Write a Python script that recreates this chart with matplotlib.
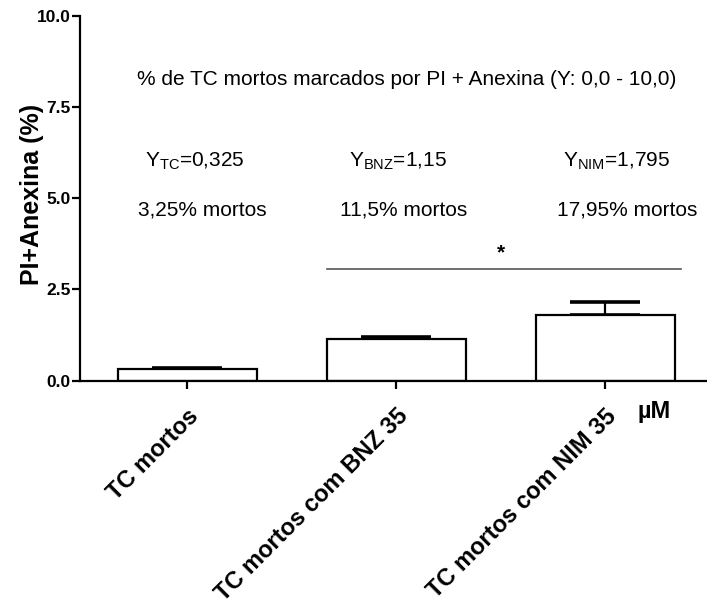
import matplotlib.pyplot as plt
import numpy as np

plt.rcParams['font.family'] = ['Liberation Sans', 'DejaVu Sans']
plt.rcParams['mathtext.fontset'] = 'custom'
plt.rcParams['mathtext.rm'] = 'Liberation Sans'
plt.rcParams['mathtext.it'] = 'Liberation Sans:italic'
plt.rcParams['mathtext.bf'] = 'Liberation Sans:bold'

# dados: media e erro padrao (%)
grupos = ['TC mortos', 'TC mortos com BNZ 35', 'TC mortos com NIM 35']
medias = [0.325, 1.15, 1.795]
erros = [0.03, 0.06, 0.365]
yticks = [0.0, 2.5, 5.0, 7.5, 10.0]

valores_y = [r'Y$_{\mathrm{TC}}$=0,325', r'Y$_{\mathrm{BNZ}}$=1,15', r'Y$_{\mathrm{NIM}}$=1,795']
mortos = ['3,25% mortos', '11,5% mortos', '17,95% mortos']

fig = plt.figure(figsize=(7.07, 6.05), dpi=100)
ax = fig.add_axes([80/707, 1 - 380.7/605, 627/707, (380.7 - 15.7)/605])

x = np.arange(len(grupos))
largura = 0.665
ax.bar(x, medias, width=largura, color='white', edgecolor='black', linewidth=1.6, zorder=2)
ax.errorbar(x, medias, yerr=[np.zeros(len(erros)), erros], fmt='none', ecolor='black',
            elinewidth=1.6, capsize=25, capthick=2.6, zorder=1)

ax.set_xlim(-0.512, 2.488)
ax.set_ylim(0, 10)
ax.set_yticks(yticks)
ax.set_yticklabels(['%.1f' % v for v in yticks], fontsize=12.5, fontweight='bold')
ax.set_xticks(x)
ax.set_xticklabels(grupos, rotation=45, ha='right', va='top', rotation_mode='anchor',
                   fontsize=17, fontweight='bold')
ax.tick_params(axis='y', length=6, width=1.6, pad=1)
ax.tick_params(axis='x', length=6, width=1.6, pad=11)
ax.spines['top'].set_visible(False)
ax.spines['right'].set_visible(False)
ax.spines['left'].set_linewidth(1.6)
ax.spines['bottom'].set_linewidth(1.6)
ax.set_ylabel('PI+Anexina (%)', fontsize=18, fontweight='bold', labelpad=0)
ax.yaxis.set_label_coords(-0.058, 0.51)

# linha de significancia entre BNZ e NIM
ax.plot([1 - largura/2, 2 + largura/2 + 0.03], [3.06, 3.06], color='#555555', linewidth=1.2, clip_on=False)
ax.text(1.5, 3.34, '*', ha='center', va='baseline', fontsize=15, fontweight='bold')

ax.text(2.155, -0.85, 'µM', ha='left', va='center', fontsize=17, fontweight='bold')

# textos de anotacao
fig.text(137/707, 1 - 85/605, '% de TC mortos marcados por PI + Anexina (Y: 0,0 - 10,0)',
         fontsize=15, ha='left', va='baseline')
x_val = [145, 349, 563]
x_mor = [138, 340, 557]
for i in range(3):
    fig.text(x_val[i]/707, 1 - 167/605, valores_y[i], fontsize=15, ha='left', va='baseline')
    fig.text(x_mor[i]/707, 1 - 216/605, mortos[i], fontsize=15, ha='left', va='baseline')

fig.savefig('out.png', dpi=100)
